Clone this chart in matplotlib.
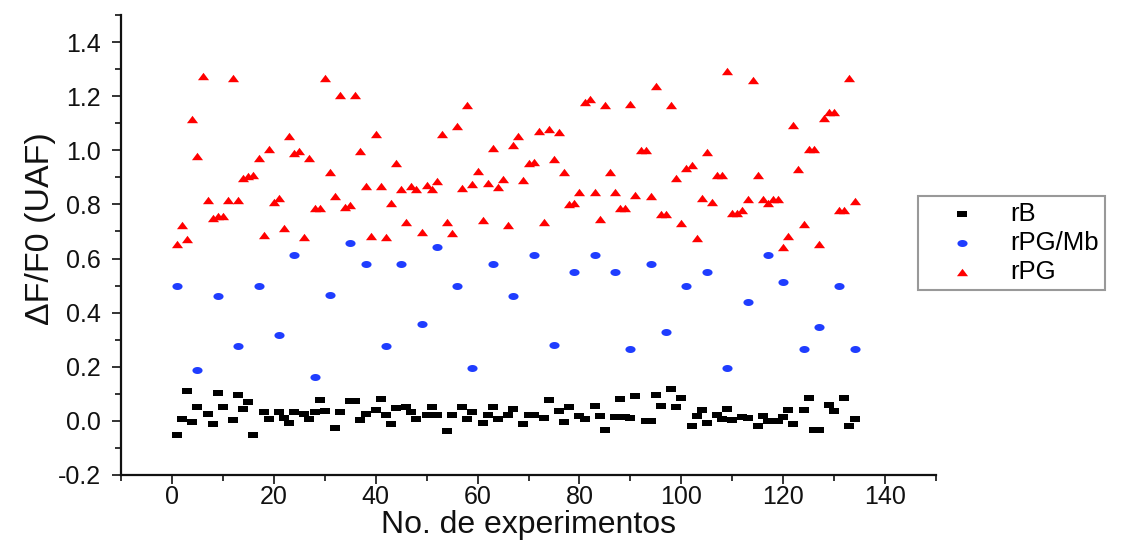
import matplotlib
matplotlib.use("Agg")
import matplotlib.pyplot as plt
import numpy as np
from matplotlib.path import Path
from matplotlib.ticker import MultipleLocator

# ---------------- data ----------------
rB_x = [1, 2, 3, 4, 5, 7, 8, 9, 10, 12, 13, 14, 15, 16, 18, 19, 21, 22, 23, 24,
        26, 27, 28, 29, 30, 32, 33, 35, 36, 37, 38, 40, 41, 42, 43, 44, 46, 47, 48, 50,
        51, 52, 54, 55, 57, 58, 59, 61, 62, 63, 64, 66, 67, 69, 70, 71, 73, 74, 76, 77,
        78, 80, 81, 83, 84, 85, 87, 88, 89, 90, 91, 93, 94, 95, 96, 98, 99, 100, 102, 103,
        104, 105, 107, 108, 109, 110, 112, 113, 115, 116, 117, 119, 120, 121, 122, 124, 125, 126, 127, 129,
        130, 132, 133, 134]
rB_y = [-0.054, 0.006, 0.111, -0.005, 0.053, 0.025, -0.011, 0.103, 0.052, 0.003,
        0.094, 0.044, 0.068, -0.054, 0.033, 0.006, 0.031, 0.010, -0.007, 0.031,
        0.025, 0.006, 0.034, 0.077, 0.037, -0.027, 0.034, 0.073, 0.073, 0.003,
        0.025, 0.040, 0.080, 0.020, -0.012, 0.049, 0.053, 0.034, 0.006, 0.020,
        0.053, 0.020, -0.037, 0.022, 0.051, 0.007, 0.031, -0.007, 0.020, 0.051,
        0.006, 0.020, 0.043, -0.011, 0.022, 0.020, 0.010, 0.078, 0.037, -0.004,
        0.053, 0.017, 0.006, 0.054, 0.017, -0.034, 0.016, 0.080, 0.016, 0.010,
        0.091, 0.000, 0.000, 0.094, 0.056, 0.116, 0.051, 0.083, -0.019, 0.017,
        0.042, -0.009, 0.020, 0.007, 0.043, 0.004, 0.016, 0.012, -0.019, 0.017,
        0.001, 0.001, 0.015, 0.042, -0.011, 0.042, 0.085, -0.034, -0.034, 0.059,
        0.037, 0.085, -0.019, 0.007]

rPGMb_x = [1, 5, 9, 13, 17, 21, 24, 28, 31, 35, 38, 42, 45, 49, 52, 56, 59, 63, 67, 71,
           75, 79, 83, 87, 90, 94, 97, 101, 105, 109, 113, 117, 120, 124, 127, 131, 134]
rPGMb_y = [0.499, 0.189, 0.460, 0.278, 0.499, 0.316, 0.612, 0.162, 0.467, 0.658,
           0.578, 0.278, 0.578, 0.358, 0.642, 0.499, 0.194, 0.578, 0.460, 0.612,
           0.280, 0.549, 0.612, 0.549, 0.264, 0.578, 0.328, 0.499, 0.549, 0.194,
           0.438, 0.612, 0.515, 0.264, 0.347, 0.499, 0.264]

rPG_x = list(range(1, 135))
rPG_y = [0.654, 0.725, 0.673, 1.117, 0.979, 1.273, 0.815, 0.748, 0.757, 0.759,
         0.815, 1.267, 0.815, 0.899, 0.905, 0.907, 0.973, 0.688, 1.004, 0.809,
         0.822, 0.712, 1.052, 0.991, 0.996, 0.679, 0.973, 0.785, 0.785, 1.266,
         0.920, 0.831, 1.204, 0.791, 0.797, 1.204, 0.997, 0.868, 0.684, 1.059,
         0.868, 0.680, 0.804, 0.952, 0.856, 0.736, 0.868, 0.858, 0.699, 0.871,
         0.858, 0.886, 1.059, 0.736, 0.693, 1.090, 0.859, 1.167, 0.877, 0.923,
         0.742, 0.878, 1.007, 0.866, 0.893, 0.723, 1.019, 1.051, 0.890, 0.952,
         0.957, 1.070, 0.736, 1.080, 0.969, 1.066, 0.919, 0.801, 0.804, 0.846,
         1.178, 1.191, 0.846, 0.746, 1.167, 0.920, 0.846, 0.785, 0.785, 1.170,
         0.836, 1.001, 1.001, 0.831, 1.238, 0.763, 0.763, 1.167, 0.899, 0.730,
         0.936, 0.944, 0.677, 0.822, 0.994, 0.809, 0.907, 0.910, 1.294, 0.767,
         0.769, 0.778, 0.819, 1.259, 0.909, 0.819, 0.806, 0.819, 0.819, 0.643,
         0.685, 1.093, 0.930, 0.729, 1.004, 1.004, 0.654, 1.121, 1.142, 1.142,
         0.778, 0.781, 1.267, 0.811]

series_labels = ["rB", "rPG/Mb", "rPG"]
x_label = "No. de experimentos"
y_label = "\u0394F/F0 (UAF)"

# ---------------- markers (slightly wide shapes) ----------------
rect_marker = Path([(-1.5, -1.0), (1.5, -1.0), (1.5, 1.0), (-1.5, 1.0), (-1.5, -1.0)],
                   [Path.MOVETO, Path.LINETO, Path.LINETO, Path.LINETO, Path.CLOSEPOLY])
t = np.linspace(0, 2 * np.pi, 40)
ell_marker = Path(np.column_stack([1.45 * np.cos(t), np.sin(t)]), closed=True)
tri_marker = Path([(0.0, 1.0), (-1.5, -1.0), (1.5, -1.0), (0.0, 1.0)],
                  [Path.MOVETO, Path.LINETO, Path.LINETO, Path.CLOSEPOLY])

plt.rcParams['font.family'] = ['Liberation Sans', 'DejaVu Sans']

fig = plt.figure(figsize=(11.25, 5.45), dpi=100)
ax = fig.add_axes([121 / 1125, 1 - 475 / 545, (936 - 121) / 1125, (475 - 15) / 545])

ax.scatter(rB_x, rB_y, marker=rect_marker, s=6.5 ** 2, color='black', linewidths=0,
           label=series_labels[0], zorder=3)
ax.scatter(rPGMb_x, rPGMb_y, marker=ell_marker, s=7.3 ** 2, color='#1f3dff', linewidths=0,
           label=series_labels[1], zorder=3)
ax.scatter(rPG_x, rPG_y, marker=tri_marker, s=8.0 ** 2, color='#ff0000', linewidths=0,
           label=series_labels[2], zorder=3)

ax.set_xlim(-10, 150)
ax.set_ylim(-0.2, 1.5)
ax.xaxis.set_minor_locator(MultipleLocator(10))
ax.yaxis.set_minor_locator(MultipleLocator(0.1))
yt = np.arange(-0.2, 1.41, 0.2)
ax.set_yticks(yt)
ax.set_yticklabels([f"{v:.1f}" for v in yt])
ax.set_xticks(np.arange(0, 141, 20))

for s in ['top', 'right']:
    ax.spines[s].set_visible(False)
for s in ['left', 'bottom']:
    ax.spines[s].set_linewidth(1.6)
    ax.spines[s].set_color('#111111')

ax.tick_params(which='major', direction='out', length=6.5, width=1.2, labelsize=18,
               colors='#111111')
ax.tick_params(which='minor', direction='out', length=4.0, width=1.2, colors='#111111')
ax.tick_params(axis='x', which='major', pad=0.8)
ax.tick_params(axis='y', which='major', pad=8)

ax.set_xlabel(x_label, fontsize=23, color='#111111')
ax.xaxis.set_label_coords(0.5, -0.075)
ax.set_ylabel(y_label, fontsize=24.5, color='#111111')
ax.yaxis.set_label_coords(-0.080, 0.535)

leg = ax.legend(loc='upper left', bbox_to_anchor=(918 / 1125, 1 - 196 / 545),
                bbox_transform=fig.transFigure, fontsize=18.5, frameon=True,
                fancybox=False, borderpad=0.23, handlelength=2.96, handletextpad=0.39,
                labelspacing=0.2, borderaxespad=0, scatterpoints=1)
leg.get_frame().set_edgecolor('#808080')
leg.get_frame().set_linewidth(1.5)

fig.savefig("out.png", dpi=100)
